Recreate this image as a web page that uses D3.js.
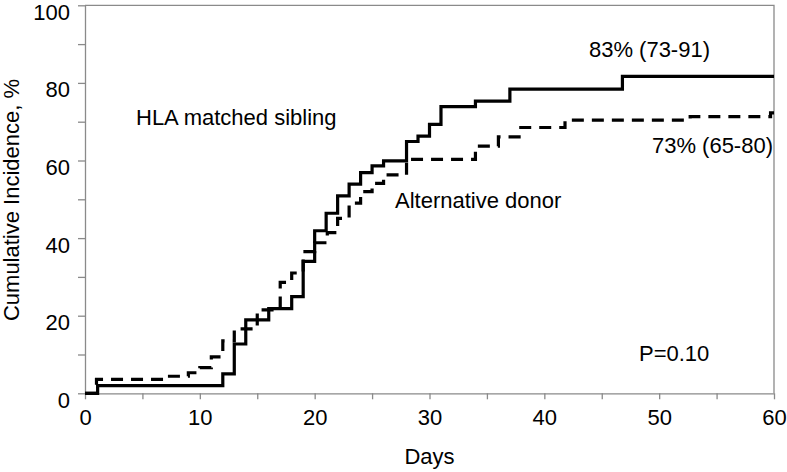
<!DOCTYPE html>
<html>
<head>
<meta charset="utf-8">
<script src="https://cdn.jsdelivr.net/npm/d3@7"></script>
<style>
  body { margin: 0; background: #fff; }
  svg { display: block; font-family: Arial, "Liberation Sans", sans-serif; }
  .axis path, .axis line { stroke: #8a8a8a; stroke-width: 1.3; }
  .axis text { fill: #000; font-size: 22px; font-family: Arial, "Liberation Sans", sans-serif; }
</style>
</head>
<body>
<script>
// HLA matched sibling (solid) - day of step, cumulative incidence %
const sibDays = [0, 1.1, 12, 13, 14, 16, 18, 19, 20, 21, 22, 23, 24, 25, 26, 28, 29, 30, 31, 34, 37, 46.8, 60];
const sibCI   = [0, 2.0, 5.0, 12.7, 18.9, 21.8, 24.9, 34.0, 41.9, 46.4, 50.9, 53.9, 56.9, 58.6, 59.9, 64.9, 66.3, 69.3, 73.9, 75.3, 78.4, 81.7, 81.7];

// Alternative donor (dashed)
const altDays = [0, 1, 7, 9, 10, 11, 12, 13, 15, 17, 18, 19, 20, 21.1, 22, 23, 24, 25, 26, 28, 34, 36, 37.8, 41.8, 52.7, 59.7, 60];
const altCI   = [0, 3.6, 4.4, 5.3, 6.6, 9.4, 13.5, 16.6, 21.5, 28.6, 31.0, 36.5, 38.8, 41.4, 45.1, 49.0, 52.0, 54.1, 56.3, 60.3, 63.7, 66.1, 68.5, 70.4, 71.3, 72.3, 72.3];

const xTicks = [0, 5, 10, 15, 20, 25, 30, 35, 40, 45, 50, 55, 60];
const yTicks = [0, 10, 20, 30, 40, 50, 60, 70, 80, 90, 100];

const W = 787, H = 472;
const mLeft = 85, mRight = 774, mTop = 5.3, mBottom = 393.3;

const x = d3.scaleLinear().domain([0, 60]).range([mLeft, mRight]);
const y = d3.scaleLinear().domain([0, 100]).range([mBottom, mTop]);

const svg = d3.select("body").append("svg")
    .attr("width", W)
    .attr("height", H);

// frame (top and right)
svg.append("path")
    .attr("d", "M" + mLeft + "," + mTop + "H" + mRight + "V" + mBottom)
    .attr("fill", "none")
    .attr("stroke", "#8a8a8a")
    .attr("stroke-width", 1.3);

// bottom axis
const gx = svg.append("g")
    .attr("class", "axis")
    .attr("transform", "translate(0," + mBottom + ")")
    .call(d3.axisBottom(x).tickValues(xTicks)
        .tickFormat(d => d % 10 ? "" : d)
        .tickSize(6).tickPadding(10).tickSizeOuter(0));
gx.selectAll("text").attr("dy", "0.71em");

// left axis
const gy = svg.append("g")
    .attr("class", "axis")
    .attr("transform", "translate(" + mLeft + ",0)")
    .call(d3.axisLeft(y).tickValues(yTicks)
        .tickFormat(d => d % 20 ? "" : d)
        .tickSize(7).tickPadding(8).tickSizeOuter(0));
gy.selectAll("text").attr("dy", "0.64em");

// curves
const line = d3.line()
    .x(d => x(d[0]))
    .y(d => y(d[1]))
    .curve(d3.curveStepAfter);

svg.append("path")
    .datum(altDays.map((d, i) => [d, altCI[i]]))
    .attr("d", line)
    .attr("fill", "none")
    .attr("stroke", "#000")
    .attr("stroke-width", 3.2)
    .attr("stroke-dasharray", "12,8");

svg.append("path")
    .datum(sibDays.map((d, i) => [d, sibCI[i]]))
    .attr("d", line)
    .attr("fill", "none")
    .attr("stroke", "#000")
    .attr("stroke-width", 3.2);

// annotations
const txt = (tx, ty, s, anchor) => svg.append("text")
    .attr("x", tx).attr("y", ty)
    .attr("text-anchor", anchor || "start")
    .style("font-size", "22px")
    .text(s);

txt(136, 125, "HLA matched sibling");
txt(395, 208, "Alternative donor");
txt(710, 57, "83% (73-91)", "end");
txt(773, 153, "73% (65-80)", "end");
txt(639, 361, "P=0.10");

// axis titles
txt((mLeft + mRight) / 2, 464, "Days", "middle");
svg.append("text")
    .attr("transform", "translate(19," + 200 + ") rotate(-90)")
    .attr("text-anchor", "middle")
    .style("font-size", "22px")
    .text("Cumulative Incidence, %");
</script>
</body>
</html>
